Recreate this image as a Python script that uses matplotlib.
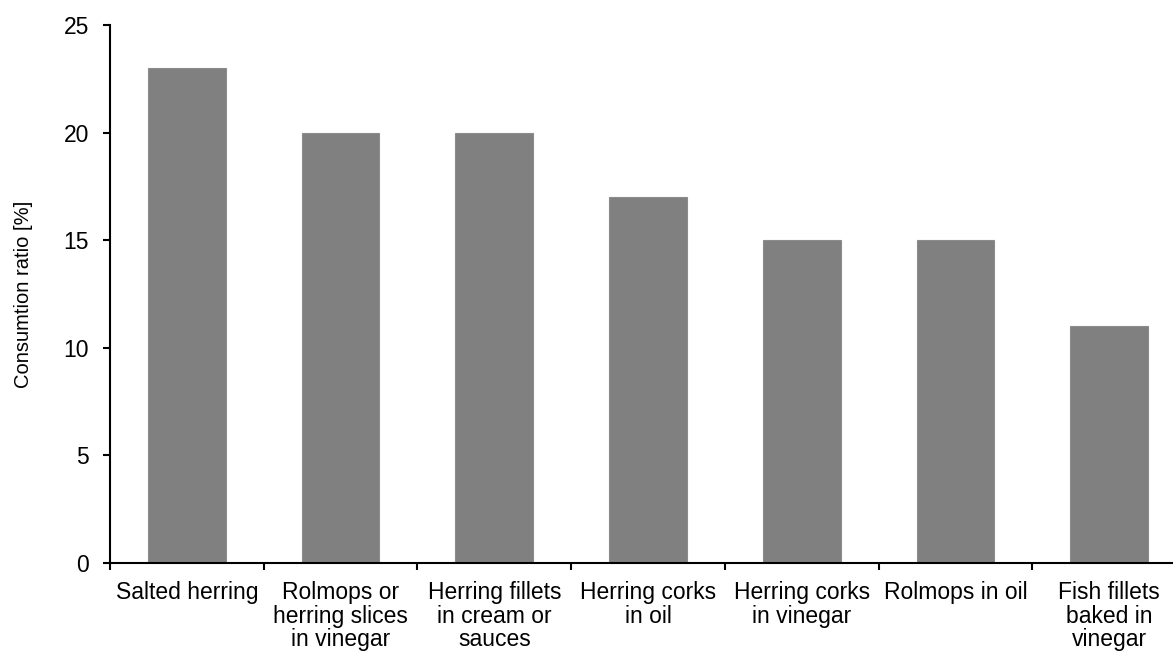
import numpy as np
import matplotlib.pyplot as plt
from matplotlib.ticker import FixedLocator

plt.rcParams['font.family'] = ['Liberation Sans', 'DejaVu Sans']

categories = ['Salted herring', 'Rolmops or\nherring slices\nin vinegar',
              'Herring fillets\nin cream or\nsauces', 'Herring corks\nin oil',
              'Herring corks\nin vinegar', 'Rolmops in oil',
              'Fish fillets\nbaked in\nvinegar']
values = [23, 20, 20, 17, 15, 15, 11]

fig = plt.figure(figsize=(11.73, 6.57), dpi=100)
# the chart is clipped at the right edge, like the original
ax = fig.add_axes([110 / 1173, 1 - 563 / 657, 1076 / 1173, 538 / 657])

x = np.arange(len(categories))
ax.bar(x, values, width=0.505, color='#808080', edgecolor='#8c8c8c', linewidth=0.8)

ax.set_xlim(-0.5, len(categories) - 0.5)
ax.set_ylim(0, 25)
ax.set_yticks([0, 5, 10, 15, 20, 25])
ax.set_xticks(x)
ax.set_xticklabels(categories, fontsize=16.5, linespacing=1.03)
ax.xaxis.set_minor_locator(FixedLocator(np.arange(-0.5, len(categories), 1)))
ax.tick_params(axis='x', which='major', length=0, pad=13)
ax.tick_params(axis='x', which='minor', length=5, width=1.5, direction='out')
ax.tick_params(axis='y', labelsize=16.5, length=5, width=1.5, pad=10, direction='out')
ax.set_ylabel('Consumtion ratio [%]', fontsize=14.5, labelpad=22)

for s in ['top', 'right']:
    ax.spines[s].set_visible(False)
for s in ['left', 'bottom']:
    ax.spines[s].set_linewidth(1.5)

fig.savefig('out.png', dpi=100)
